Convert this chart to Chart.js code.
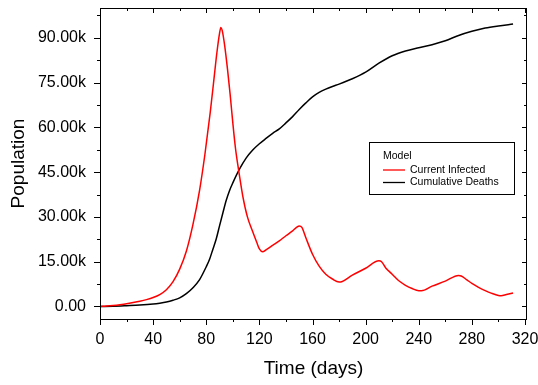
<!DOCTYPE html>
<html>
<head>
<meta charset="utf-8">
<script src="https://cdn.jsdelivr.net/npm/chart.js@4"></script>
<style>
  html, body { margin: 0; padding: 0; background: #fff; }
  #wrap { width: 538px; height: 385px; }
</style>
</head>
<body>
<div id="wrap"><canvas id="c" width="538" height="385"></canvas></div>
<script>
// ---- data ----
const infDays = [0,5,10,15,20,25,30,35,40,45,50,55,60,65,70,75,79,83,86,88,90,91,92,94,96,98,100,102,104.5,107.5,111,115,118,120,122.5,125,130,135,140,145,150,152,155,160,165,170,175,180,182,190,200,210,212,215,220,225,230,235,240,242,250,260,270,272,276,280,285,290,295,300,302,306,311];
const infected = [0,0.15,0.35,0.6,0.9,1.3,1.75,2.3,3.0,4.0,5.6,8.3,12.5,18.5,27.5,39.0,51.0,65.0,77.0,85.0,91.5,93.5,92.5,87.0,79.5,71.0,61.5,53.0,45.3,37.0,30.0,25.0,21.5,19.3,18.3,19.0,20.5,22.0,23.7,25.3,27.0,26.5,23.0,17.5,13.5,10.8,9.2,8.2,8.3,10.5,12.8,15.3,15.0,13.0,10.8,8.6,7.1,6.0,5.3,5.3,6.8,8.5,10.4,10.2,9.0,7.7,6.4,5.3,4.4,3.7,3.6,4.0,4.5];
const deathDays = [0,10,20,30,40,45,50,55,60,65,70,75,80,82.5,85,87.5,90,92.5,95,97.5,100,105,110,115,120,125,130,135,140,145,150,155,160,165,170,175,180,190,200,210,220,230,240,250,260,270,280,290,300,311];
const deaths = [0,0.08,0.25,0.45,0.8,1.1,1.5,2.1,2.9,4.3,6.3,9.0,13.3,15.8,19.2,22.6,27.0,31.3,35.5,38.8,41.4,46.0,49.7,52.4,54.5,56.3,58.0,59.5,61.5,63.6,66.0,68.2,70.2,71.7,72.8,73.7,74.5,76.3,78.5,81.5,84.0,85.6,86.7,87.7,89.0,90.8,92.2,93.3,94.0,94.6];
const seriesNames = ['Current Infected', 'Cumulative Deaths'];
const legendTitle = 'Model';
const xMajorTicks = [0,40,80,120,160,200,240,280,320];
const xMinorTicks = [20,60,100,140,180,220,260,300];
const yMajorTicks = [0,15000,30000,45000,60000,75000,90000];
const yMinorTicks = [7500,22500,37500,52500,67500,82500,97500];

const toPts = (xs, ys) => xs.map((x, i) => ({ x: x, y: ys[i] * 1000 }));

const FONT = "'Liberation Sans', Arial, sans-serif";

const frame = {
  id: 'frame',
  afterDatasetsDraw(chart) {
    const { ctx, chartArea: a, scales: { x, y } } = chart;
    ctx.save();
    ctx.strokeStyle = '#000';
    ctx.lineWidth = 1;
    ctx.strokeRect(a.left + 0.5, a.top + 0.5, a.right - a.left - 1, a.bottom - a.top);
    ctx.beginPath();
    const xt = (vals, outLen, inLen) => vals.forEach(v => {
      const p = Math.round(x.getPixelForValue(v)) + 0.5;
      ctx.moveTo(p, a.bottom); ctx.lineTo(p, a.bottom + outLen);
      ctx.moveTo(p, a.top); ctx.lineTo(p, a.top + inLen);
    });
    const yt = (vals, outLen, inLen) => vals.forEach(v => {
      const p = Math.round(y.getPixelForValue(v)) + 0.5;
      ctx.moveTo(a.left, p); ctx.lineTo(a.left - outLen, p);
      ctx.moveTo(a.right, p); ctx.lineTo(a.right - inLen, p);
    });
    xt(xMajorTicks, 6, 5); xt(xMinorTicks, 3, 3);
    yt(yMajorTicks, 6, 5); yt(yMinorTicks, 3, 3);
    ctx.stroke();

    // legend box
    const bx = 369.5, by = 142.5, bw = 145, bh = 52;
    ctx.fillStyle = '#fff';
    ctx.fillRect(bx, by, bw, bh);
    ctx.strokeRect(bx, by, bw, bh);
    ctx.fillStyle = '#000';
    ctx.font = "10.5px " + FONT;
    ctx.textBaseline = 'middle';
    ctx.textAlign = 'left';
    ctx.fillText(legendTitle, 383, 156);
    chart.data.datasets.forEach((ds, i) => {
      const ly = 170 + i * 12.5;
      ctx.strokeStyle = ds.borderColor;
      ctx.lineWidth = 1.3;
      ctx.beginPath(); ctx.moveTo(383, ly); ctx.lineTo(405, ly); ctx.stroke();
      ctx.fillText(ds.label, 410, ly);
    });
    ctx.restore();
  }
};

new Chart(document.getElementById('c'), {
  type: 'line',
  data: {
    datasets: [
      { label: seriesNames[0], data: toPts(infDays, infected), borderColor: '#ff0000', borderWidth: 1.5, pointRadius: 0, cubicInterpolationMode: 'monotone', fill: false },
      { label: seriesNames[1], data: toPts(deathDays, deaths), borderColor: '#000000', borderWidth: 1.5, pointRadius: 0, cubicInterpolationMode: 'monotone', fill: false }
    ]
  },
  options: {
    responsive: false,
    animation: false,
    events: [],
    layout: { padding: { left: 0, right: 11, top: 8, bottom: 0 } },
    plugins: { legend: { display: false }, tooltip: { enabled: false } },
    scales: {
      x: {
        type: 'linear', min: 0, max: 321.5,
        afterBuildTicks: s => { s.ticks = xMajorTicks.map(v => ({ value: v })); },
        afterFit: s => { s.height = 66; s.paddingLeft = 0; s.paddingRight = 0; },
        grid: { display: false, drawTicks: false },
        border: { display: false },
        ticks: { color: '#000', padding: 11, maxRotation: 0, autoSkip: false, font: { family: FONT, size: 16 } },
        title: { display: true, text: 'Time (days)', color: '#000', font: { family: FONT, size: 19 }, padding: { top: 5, bottom: 5 } }
      },
      y: {
        type: 'linear', min: -4200, max: 100000,
        afterBuildTicks: s => { s.ticks = yMajorTicks.map(v => ({ value: v })); },
        afterFit: s => { s.width = 100; s.paddingTop = 0; s.paddingBottom = 0; },
        grid: { display: false, drawTicks: false },
        border: { display: false },
        ticks: { color: '#000', padding: 14, autoSkip: false, font: { family: FONT, size: 16 },
                 callback: v => v === 0 ? '0.00' : (v / 1000).toFixed(2) + 'k' },
        title: { display: true, text: 'Population', color: '#000', font: { family: FONT, size: 19 }, padding: { top: 7, bottom: 0 } }
      }
    }
  },
  plugins: [frame]
});
</script>
</body>
</html>
